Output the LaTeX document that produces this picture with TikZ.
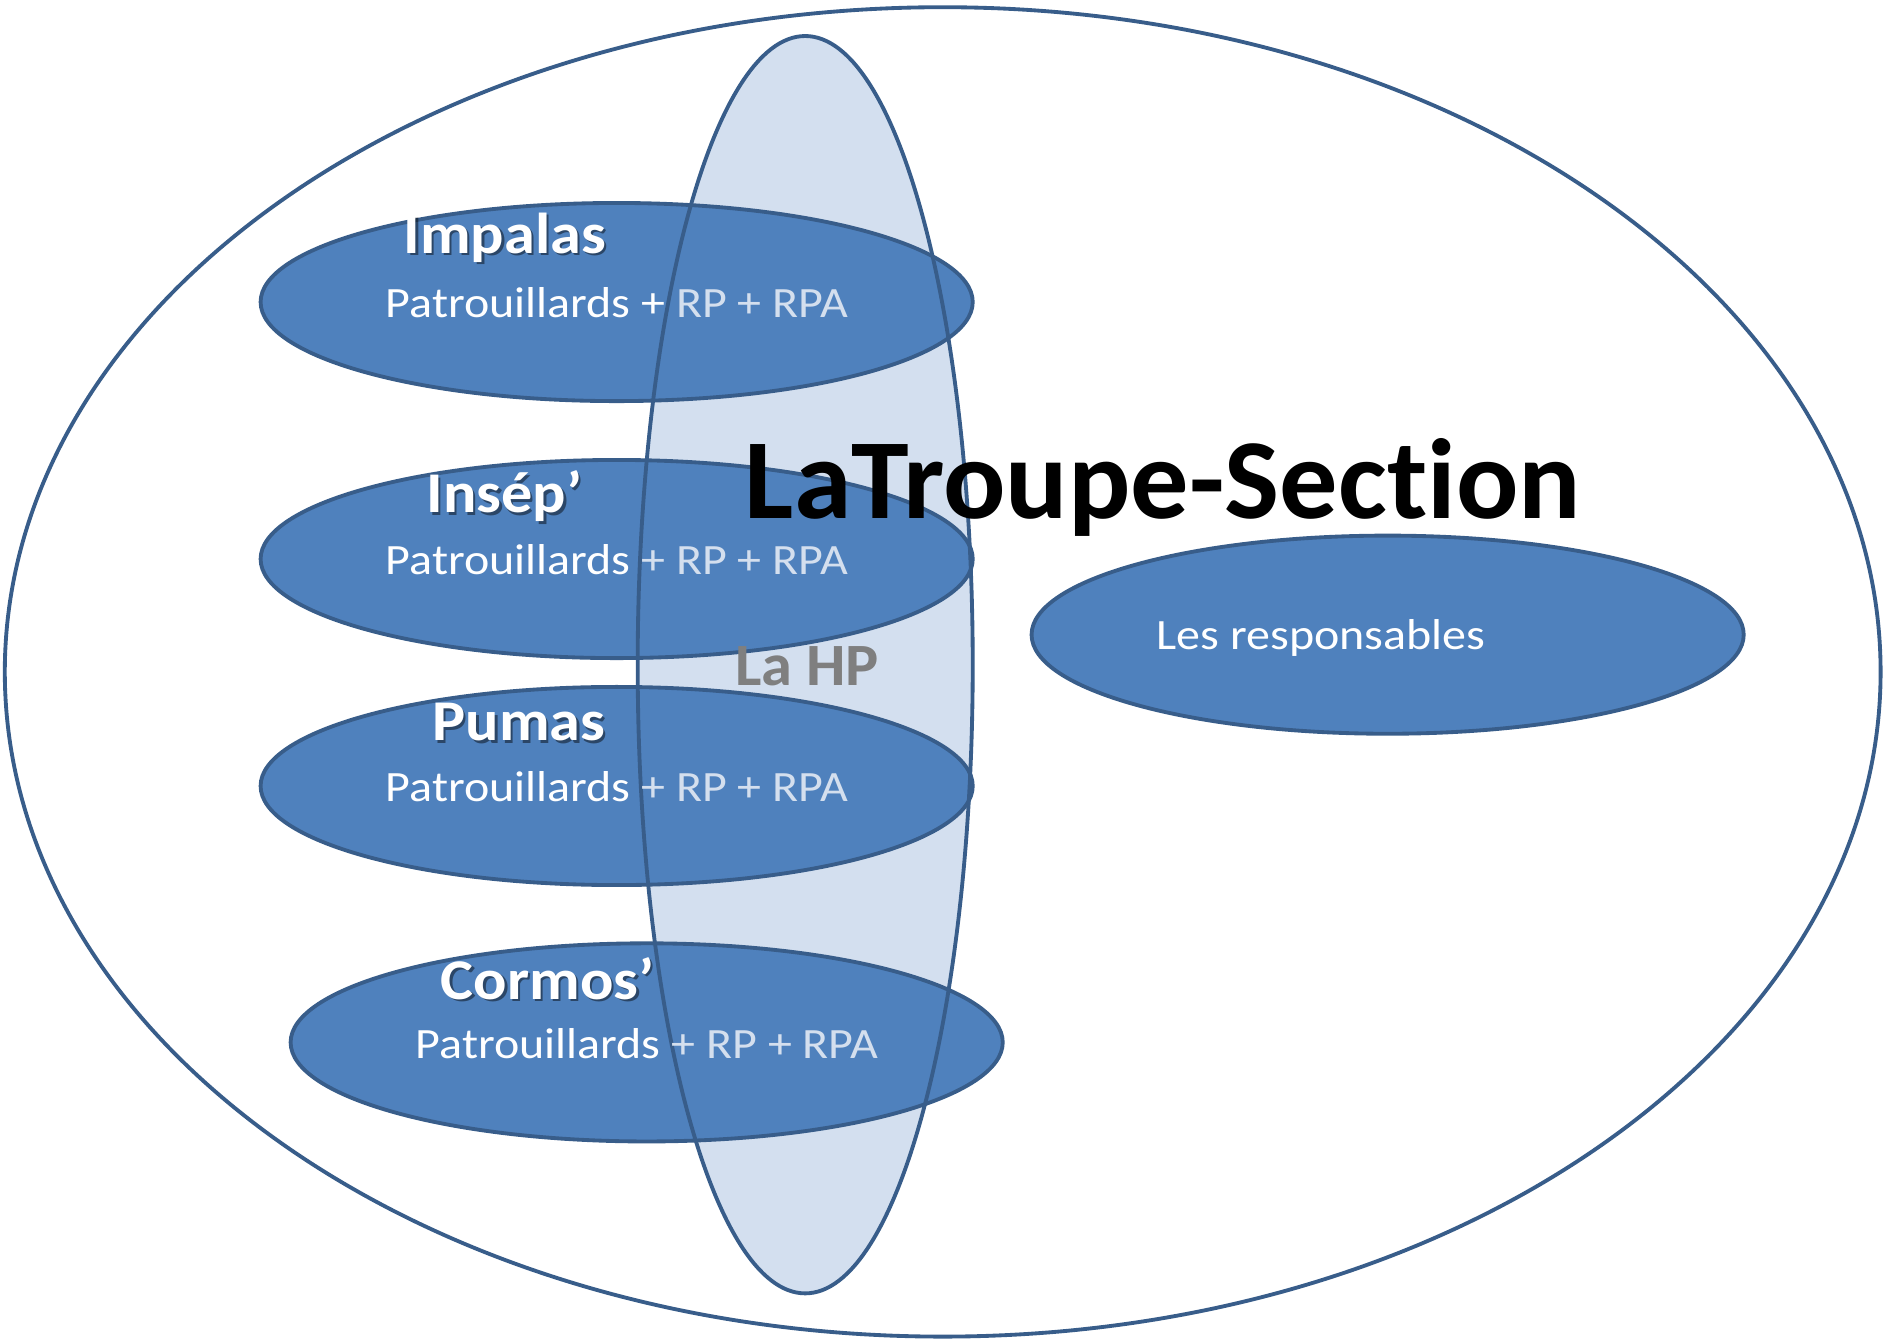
\documentclass[tikz,border=0pt]{standalone}
\usepackage{fontspec}
\setmainfont{Carlito}[Ligatures={NoCommon}]
\usetikzlibrary{shapes.geometric}
\definecolor{edge}{HTML}{385D8A}
\definecolor{bluefill}{HTML}{4F81BD}
\definecolor{hpfill}{HTML}{D3DFEF}
\definecolor{lighttxt}{HTML}{D4DFEE}
\definecolor{hpgray}{HTML}{7F7F7F}
\begin{document}
\begin{tikzpicture}[x=1pt,y=-1pt,
  group/.style={ellipse,draw=edge,fill=bluefill,line width=3.2pt,minimum width=593pt,minimum height=165pt,inner sep=0pt},
  member/.style={anchor=base west,inner sep=0pt,xscale=1.11,font=\fontsize{36}{40}\selectfont,text=white},
  label/.style={anchor=base west,inner sep=0pt,xscale=1.08,font=\fontsize{48}{52}\selectfont\bfseries,text=white},
  lshadow/.style={label,text=black,opacity=0.45}]
\useasboundingbox (0,0) rectangle (1568,1116);
% outer ellipse
\node[ellipse,draw=edge,fill=white,line width=3.2pt,minimum width=1562pt,minimum height=1107pt,inner sep=0pt] (troupe) at (785,559.5) {};
% HP fill
\node[ellipse,fill=hpfill,minimum width=279pt,minimum height=1047pt,inner sep=0pt] (hp) at (670.5,553.5) {};
% patrol ellipses
\node[group] (impalas) at (513.5,251.5) {};
\node[group] (insep) at (513.5,465.5) {};
\node[group] (pumas) at (513.5,654.5) {};
\node[group] (cormos) at (538.5,868) {};
\node[group] (resp) at (1155.5,528.5) {};
% HP outline on top
\node[ellipse,draw=edge,line width=3.2pt,minimum width=279pt,minimum height=1047pt,inner sep=0pt] (hpline) at (hp.center) {};
% labels
\node[lshadow] (impalasS) at (338,213) {Impalas};
\node[label] (impalasL) at (336,211) {Impalas};
\node[lshadow] (insepS) at (357,429) {Insép’};
\node[label] (insepL) at (355,427) {Insép’};
\node[lshadow] (pumasS) at (362,619) {Pumas};
\node[label] (pumasL) at (360,617) {Pumas};
\node[lshadow] (cormosS) at (369,834) {Cormos’};
\node[label] (cormosL) at (367,832) {Cormos’};
% members
\node[member] (impalasM) at (321,264) {Patrouillards + \textcolor{lighttxt}{RP + RPA}};
\node[member] (insepM) at (321,478) {Patrouillards \textcolor{lighttxt}{+ RP + RPA}};
\node[member] (pumasM) at (321,667) {Patrouillards \textcolor{lighttxt}{+ RP + RPA}};
\node[member] (cormosM) at (346,881) {Patrouillards \textcolor{lighttxt}{+ RP + RPA}};
\node[member] (respM) at (963,541) {Les responsables};
% HP label
\node[anchor=base west,inner sep=0pt,xscale=1.04,font=\fontsize{50}{54}\selectfont\bfseries,text=hpgray] (hpL) at (612,570.5) {La HP};
% title
\node[anchor=base west,inner sep=0pt,xscale=1.02,font=\fontsize{95}{100}\selectfont\bfseries,text=black] (title) at (620,432) {LaTroupe-Section};
\end{tikzpicture}
\end{document}
